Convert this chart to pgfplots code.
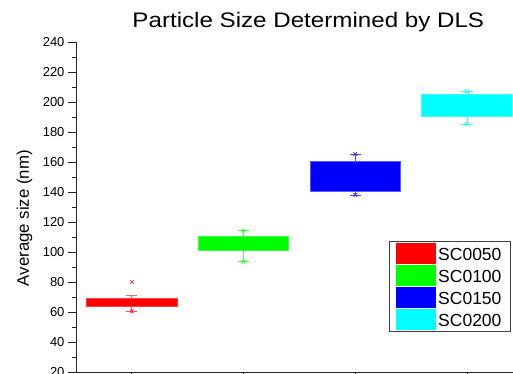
\documentclass[border=0pt]{standalone}
\usepackage{pgfplots}
\pgfplotsset{compat=1.18}
\usepackage{fontspec}
\setmainfont{Liberation Sans}
\newfontfamily\titlefont[FakeStretch=1.15]{Liberation Sans}
\definecolor{cR}{RGB}{255,0,0}
\definecolor{cG}{RGB}{0,255,0}
\definecolor{cB}{RGB}{0,0,255}
\definecolor{cC}{RGB}{0,255,255}
\begin{document}
\begin{tikzpicture}
\useasboundingbox (0,0) rectangle (513pt,373pt);
\begin{axis}[
  at={(76pt,1pt)}, anchor=south west,
  scale only axis, width=436.7pt, height=330pt,
  xmin=0.5, xmax=4.41, ymin=20, ymax=240,
  axis x line*=bottom, axis y line*=left,
  axis line style={-, black!85, line width=1pt},
  ytick={20,40,...,240}, minor y tick num=1,
  xtick={1,2,3,4}, xticklabels={},
  tick align=outside, major tick length=8pt, minor tick length=4pt,
  tick style={black!85, line width=0.8pt},
  yticklabel style={font=\fontsize{13}{13}\selectfont, /pgf/number format/assume math mode=true},
  ylabel={Average size (nm)},
  every axis y label/.style={at={(axis description cs:-0.118,0.466)}, rotate=90, anchor=center, font=\fontsize{16.8}{16.8}\selectfont},
  every axis title shift=0pt,
  title={\titlefont Particle Size Determined by DLS},
  title style={at={(axis description cs:0.532,1.0433)}, anchor=base, font=\fontsize{21}{21}\selectfont},
  legend style={at={(axis description cs:0.996,0.397)}, anchor=north east,
    draw=black!75, line width=1pt, fill=white,
    font=\fontsize{17.5}{17.5}\selectfont, inner xsep=7pt, inner ysep=2pt, row sep=1.7pt,
    nodes={inner xsep=2pt, inner ysep=0pt}},
  legend cell align=left,
]
% whiskers (SC0050)
\addplot[cR!70!white, line width=0.8pt, forget plot] coordinates {(1,64.0) (1,60.4)};
\addplot[cR!70!white, line width=0.8pt, forget plot] coordinates {(1,69.1) (1,70.7)};
\addplot[cR!70!white, line width=1pt, forget plot] coordinates {(0.95,60.4) (1.05,60.4)};
\addplot[cR!60!white, line width=1pt, forget plot] coordinates {(0.95,70.7) (1.05,70.7)};
% whiskers (SC0100)
\addplot[cG!70!white, line width=0.8pt, forget plot] coordinates {(2,100.9) (2,93.5)};
\addplot[cG!70!white, line width=0.8pt, forget plot] coordinates {(2,110.2) (2,114.2)};
\addplot[cG!70!white, line width=1pt, forget plot] coordinates {(1.95,93.5) (2.05,93.5)};
\addplot[cG!70!white, line width=1pt, forget plot] coordinates {(1.95,114.2) (2.05,114.2)};
% whiskers (SC0150)
\addplot[cB!70!white, line width=0.8pt, forget plot] coordinates {(3,140.2) (3,138.0)};
\addplot[cB!70!white, line width=0.8pt, forget plot] coordinates {(3,160.7) (3,165.3)};
\addplot[cB!70!white, line width=1pt, forget plot] coordinates {(2.95,138.0) (3.05,138.0)};
\addplot[cB!70!white, line width=1pt, forget plot] coordinates {(2.95,165.3) (3.05,165.3)};
% whiskers (SC0200)
\addplot[cC!80!white, line width=0.8pt, forget plot] coordinates {(4,190.2) (4,185.3)};
\addplot[cC!80!white, line width=0.8pt, forget plot] coordinates {(4,205.3) (4,207.3)};
\addplot[cC!80!white, line width=1pt, forget plot] coordinates {(3.95,185.3) (4.05,185.3)};
\addplot[cC!80!white, line width=1pt, forget plot] coordinates {(3.95,207.3) (4.05,207.3)};
% boxes (lower quartile to upper quartile)
\addplot[fill=cR, draw=cR!75!white, line width=0.6pt, forget plot] coordinates {(0.595,64.0) (1.405,64.0) (1.405,69.1) (0.595,69.1)} -- cycle;
\addplot[fill=cG, draw=cG!75!white, line width=0.6pt, forget plot] coordinates {(1.595,100.9) (2.405,100.9) (2.405,110.2) (1.595,110.2)} -- cycle;
\addplot[fill=cB, draw=cB!65!white, line width=0.6pt, forget plot] coordinates {(2.595,140.2) (3.405,140.2) (3.405,160.7) (2.595,160.7)} -- cycle;
\addplot[fill=cC, draw=cC!75!white, line width=0.6pt, forget plot] coordinates {(3.595,190.2) (4.405,190.2) (4.405,205.3) (3.595,205.3)} -- cycle;
% 1% / 99% markers and outlier
\addplot[only marks, mark=x, mark size=2.5pt, cR!80!white, line width=0.8pt, forget plot] coordinates {(1,60.4) (1,80.0)};
\addplot[only marks, mark=x, mark size=2.5pt, cG!80!white, line width=0.8pt, forget plot] coordinates {(2,93.5) (2,114.2)};
\addplot[only marks, mark=x, mark size=2.5pt, cB!80!white, line width=0.8pt, forget plot] coordinates {(3,138.0) (3,165.3)};
\addplot[only marks, mark=x, mark size=2.5pt, cC!85!white, line width=0.8pt, forget plot] coordinates {(4,185.3) (4,207.3)};
\addlegendimage{legend image code/.code={\fill[cR] (0pt,-7.9pt) rectangle (39pt,11.4pt);}}
\addlegendentry{SC0050}
\addlegendimage{legend image code/.code={\fill[cG] (0pt,-7.9pt) rectangle (39pt,11.4pt);}}
\addlegendentry{SC0100}
\addlegendimage{legend image code/.code={\fill[cB] (0pt,-7.9pt) rectangle (39pt,11.4pt);}}
\addlegendentry{SC0150}
\addlegendimage{legend image code/.code={\fill[cC] (0pt,-7.9pt) rectangle (39pt,11.4pt);}}
\addlegendentry{SC0200}
\end{axis}
\end{tikzpicture}
\end{document}
